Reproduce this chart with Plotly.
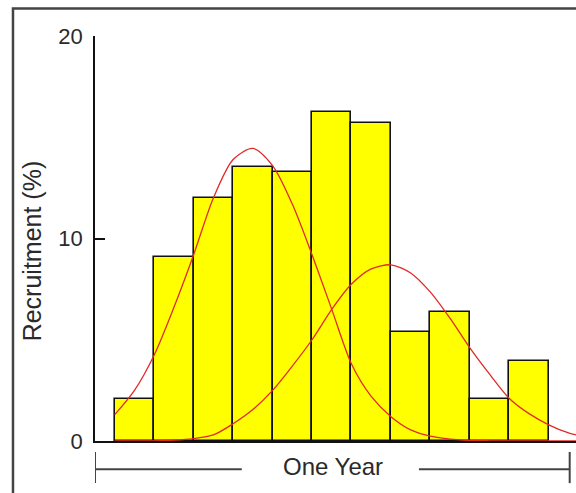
import plotly.graph_objects as go

# ---- data ----
bin_centers = [1, 2, 3, 4, 5, 6, 7, 8, 9, 10, 11]
recruitment = [2.08, 9.1, 12.0, 13.55, 13.3, 16.26, 15.72, 5.37, 6.35, 2.08, 3.97]

curve_x = [0.5, 1.0, 1.5, 2.0, 2.5, 3.0, 3.5, 4.0, 4.5, 5.0, 5.5, 6.0, 6.5,
           7.0, 7.5, 8.0, 8.5, 9.0, 9.5, 10.0, 10.5, 11.0, 11.5, 12.0, 12.3]
curve1_y = [1.3, 2.5, 4.25, 6.6, 9.2, 12.0, 13.9, 14.45, 13.6, 11.7, 9.2, 6.5, 3.8,
            2.2, 1.2, 0.55, 0.24, 0.09, 0.03, 0.01, 0.0, 0.0, 0.0, 0.0, 0.0]
curve2_y = [0.0, 0.0, 0.01, 0.04, 0.12, 0.3, 0.85, 1.55, 2.5, 3.7, 5.0, 6.5, 7.75,
            8.5, 8.7, 8.3, 7.35, 6.05, 4.6, 3.3, 2.1, 1.35, 0.8, 0.4, 0.25]

y_ticks = [0, 10, 20]
y_title = "Recruitment (%)"
x_label = "One Year"
x_range = [0, 12.19]
y_range = [0, 20]
year_span = [0, 12.03]

FONT = "Liberation Sans, Arial, sans-serif"
TXT = "#2a2a2a"
FRAME = "#444444"

fig = go.Figure()
fig.add_trace(go.Bar(
    x=bin_centers, y=recruitment, width=1,
    marker=dict(color="#ffff00", line=dict(color="#111111", width=1.6)),
    showlegend=False, hoverinfo="skip"))
for cy in (curve1_y, curve2_y):
    fig.add_trace(go.Scatter(
        x=curve_x, y=cy, mode="lines",
        line=dict(color="#e02a2a", width=1.3, shape="spline", smoothing=0.8),
        showlegend=False, hoverinfo="skip", cliponaxis=True))

fig.update_layout(
    width=576, height=493,
    margin=dict(l=95, r=0, t=36, b=52, autoexpand=False),
    paper_bgcolor="white", plot_bgcolor="white",
    bargap=0,
    font=dict(family=FONT, color=TXT),
    xaxis=dict(range=x_range, showline=True, linecolor="#111111", linewidth=1.6,
               showticklabels=False, ticks="", showgrid=False, zeroline=False,
               layer="below traces"),
    yaxis=dict(range=y_range, showline=True, linecolor="#111111", linewidth=1.6,
               tickvals=y_ticks, ticktext=[str(v) for v in y_ticks],
               ticks="inside", ticklen=10, tickwidth=1.6, tickcolor="#111111",
               tickfont=dict(size=22, family=FONT, color=TXT),
               ticklabelstandoff=6,
               showgrid=False, zeroline=False),
)

# axis title as annotation
fig.add_annotation(text=y_title, textangle=-90, xref="paper", yref="paper",
                   x=-0.1316, y=0.47, xanchor="center", yanchor="middle",
                   showarrow=False, font=dict(size=25, family=FONT, color=TXT))

# "One Year" bracket
fig.add_annotation(text=x_label, xref="x", yref="paper", x=6.04, y=-0.064,
                   xanchor="center", yanchor="middle",
                   showarrow=False, font=dict(size=24, family=FONT, color=TXT))
yb_top, yb_bot, yb_mid = -0.027, -0.104, -0.0699
for xv in year_span:
    fig.add_shape(type="line", xref="x", yref="paper", x0=xv, x1=xv,
                  y0=yb_top, y1=yb_bot, line=dict(color=FRAME, width=2))
fig.add_shape(type="line", xref="x", yref="paper", x0=year_span[0], x1=3.72,
              y0=yb_mid, y1=yb_mid, line=dict(color=FRAME, width=2))
fig.add_shape(type="line", xref="x", yref="paper", x0=8.21, x1=year_span[1],
              y0=yb_mid, y1=yb_mid, line=dict(color=FRAME, width=2))

# outer frame (top and left visible)
fig.add_shape(type="path", xref="paper", yref="paper",
              path="M -0.1705,-0.2 L -0.1705,1.068 L 1.02,1.068",
              line=dict(color=FRAME, width=2.5))

fig.write_html("out.html", config={"displayModeBar": False},
               post_script="document.body.style.margin='0';document.body.style.overflow='hidden';")
